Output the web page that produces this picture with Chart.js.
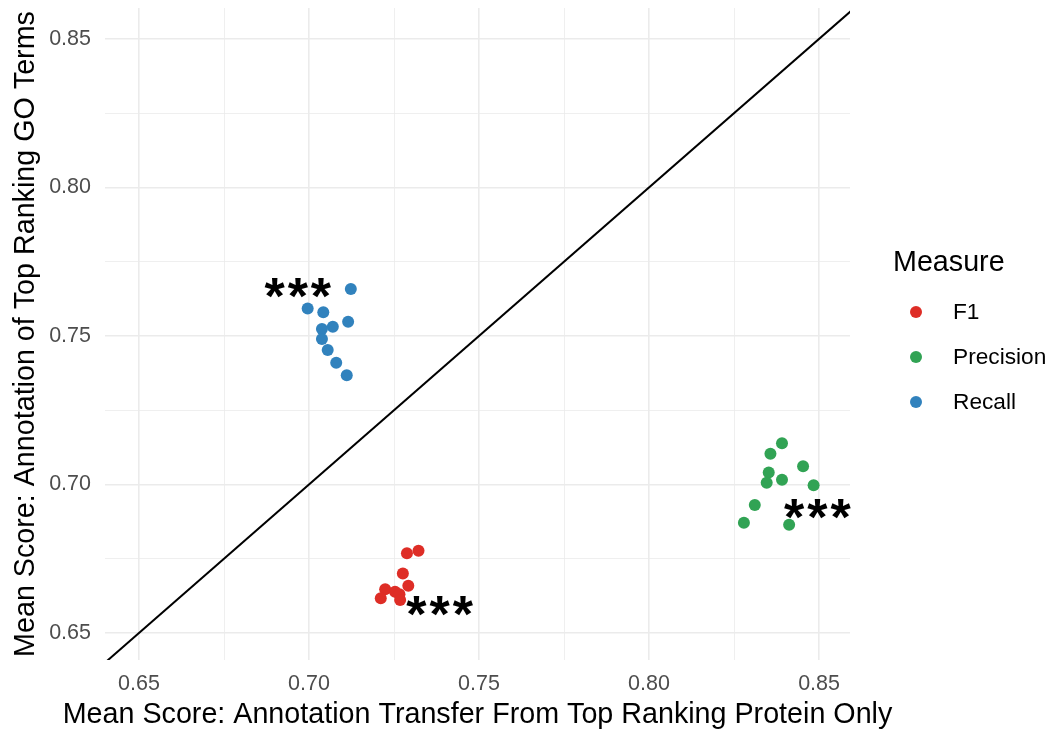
<!DOCTYPE html>
<html>
<head>
<meta charset="utf-8">
<script src="https://cdn.jsdelivr.net/npm/chart.js@4.4.1/dist/chart.umd.min.js"></script>
<style>
  html, body { margin: 0; padding: 0; background: #fff; }
  #wrap { width: 1051px; height: 731px; }
</style>
</head>
<body>
<div id="wrap"><canvas id="chart"></canvas></div>
<script>
// values
const measures = ["F1", "Precision", "Recall"];
const colors = ["#de2d26", "#31a354", "#3182bd"];

const f1X = [0.7322, 0.7288, 0.7276, 0.7292, 0.7224, 0.7253, 0.7266, 0.7211, 0.7268];
const f1Y = [0.6777, 0.6768, 0.6700, 0.6659, 0.6647, 0.6639, 0.6630, 0.6617, 0.6611];

const precisionX = [0.8391, 0.8357, 0.8453, 0.8352, 0.8391, 0.8346, 0.8484, 0.8311, 0.8279, 0.8412];
const precisionY = [0.7139, 0.7103, 0.7061, 0.7040, 0.7016, 0.7006, 0.6997, 0.6931, 0.6871, 0.6864];

const recallX = [0.7123, 0.6996, 0.7042, 0.7115, 0.7070, 0.7038, 0.7038, 0.7055, 0.7080, 0.7111];
const recallY = [0.7658, 0.7592, 0.7580, 0.7548, 0.7531, 0.7523, 0.7490, 0.7453, 0.7410, 0.7368];

// significance marks ("***") next to each group
const starLabels = ["***", "***", "***"];
const starX = [0.7385, 0.8496, 0.6968];
const starY = [0.6591, 0.6919, 0.7663];

const tickValues = [0.65, 0.675, 0.70, 0.725, 0.75, 0.775, 0.80, 0.825, 0.85];
const majorTicks = [0.65, 0.70, 0.75, 0.80, 0.85];

const xTitle = "Mean Score: Annotation Transfer From Top Ranking Protein Only";
const yTitle = "Mean Score: Annotation of Top Ranking GO Terms";
const legendTitle = "Measure";

const FONT = "'Liberation Sans', Arial, sans-serif";

function toPoints(xs, ys) {
    return xs.map((x, i) => ({x: x, y: ys[i]}));
}

function isMajor(v) {
    return majorTicks.some(m => Math.abs(m - v) < 1e-6);
}

const starPlugin = {
    id: 'stars',
    afterDatasetsDraw(chart) {
        const ctx = chart.ctx;
        const xs = chart.scales.x, ys = chart.scales.y;
        ctx.save();
        ctx.fillStyle = '#000';
        ctx.font = "bold 52px " + FONT;
        ctx.letterSpacing = '3px';
        ctx.textAlign = 'left';
        ctx.textBaseline = 'alphabetic';
        for (let i = 0; i < starLabels.length; i++) {
            const m = ctx.measureText(starLabels[i]);
            const w = m.actualBoundingBoxRight + m.actualBoundingBoxLeft;
            const h = m.actualBoundingBoxAscent + m.actualBoundingBoxDescent;
            const px = xs.getPixelForValue(starX[i]);
            const py = ys.getPixelForValue(starY[i]);
            ctx.fillText(starLabels[i], px - w / 2 + m.actualBoundingBoxLeft, py + h / 2 - m.actualBoundingBoxDescent);
        }
        ctx.restore();
    }
};

// x title is wider than the plot panel, so it is drawn here without squeezing
const xTitlePlugin = {
    id: 'xTitle',
    afterDraw(chart) {
        const ctx = chart.ctx;
        const a = chart.chartArea;
        ctx.save();
        ctx.fillStyle = '#000';
        ctx.font = "28.7px " + FONT;
        ctx.textAlign = 'center';
        ctx.textBaseline = 'middle';
        ctx.fillText(xTitle, (a.left + a.right) / 2, 715);
        ctx.restore();
    }
};

const legendPlugin = {
    id: 'sideLegend',
    afterDraw(chart) {
        const ctx = chart.ctx;
        ctx.save();
        ctx.fillStyle = '#000';
        ctx.font = "28.7px " + FONT;
        ctx.textBaseline = 'middle';
        ctx.textAlign = 'left';
        ctx.fillText(legendTitle, 893, 263);
        ctx.font = "22.7px " + FONT;
        for (let i = 0; i < measures.length; i++) {
            const y = 312 + i * 45;
            ctx.beginPath();
            ctx.arc(916, y, 6, 0, Math.PI * 2);
            ctx.fillStyle = colors[i];
            ctx.fill();
            ctx.fillStyle = '#000';
            ctx.fillText(measures[i], 953, y + 1);
        }
        ctx.restore();
    }
};

const pointSets = [toPoints(f1X, f1Y), toPoints(precisionX, precisionY), toPoints(recallX, recallY)];

const datasets = measures.map((m, i) => ({
    label: m,
    data: pointSets[i],
    backgroundColor: colors[i],
    borderColor: colors[i],
    borderWidth: 0,
    pointRadius: 6,
    pointHoverRadius: 6
}));

// y = x reference line
datasets.push({
    type: 'line',
    label: 'identity',
    data: [{x: 0.6, y: 0.6}, {x: 0.9, y: 0.9}],
    borderColor: '#000',
    borderWidth: 2,
    pointRadius: 0,
    fill: false
});

function gridWidth(ctx) {
    return isMajor(ctx.tick.value) ? 1.6 : 0.8;
}

new Chart(document.getElementById('chart'), {
    type: 'scatter',
    data: {datasets: datasets},
    options: {
        responsive: true,
        maintainAspectRatio: false,
        animation: false,
        layout: {padding: {top: 8, right: 201, left: 0, bottom: 0}},
        plugins: {legend: {display: false}, tooltip: {enabled: false}},
        scales: {
            x: {
                type: 'linear',
                min: 0.64,
                max: 0.8591,
                afterBuildTicks: s => { s.ticks = tickValues.map(v => ({value: v})); },
                afterFit: s => { s.height = 71; s.paddingLeft = 0; s.paddingRight = 0; },
                border: {display: false},
                grid: {color: '#ebebeb', lineWidth: gridWidth, drawTicks: false},
                ticks: {
                    autoSkip: false, maxRotation: 0, padding: 11,
                    color: '#4d4d4d', font: {family: FONT, size: 21.5},
                    callback: v => isMajor(v) ? v.toFixed(2) : ''
                },
                title: {display: false}
            },
            y: {
                type: 'linear',
                min: 0.6409,
                max: 0.8604,
                afterBuildTicks: s => { s.ticks = tickValues.map(v => ({value: v})); },
                afterFit: s => { s.width = 105; s.paddingTop = 0; s.paddingBottom = 0; },
                border: {display: false},
                grid: {color: '#ebebeb', lineWidth: gridWidth, drawTicks: false},
                ticks: {
                    autoSkip: false, padding: 14,
                    color: '#4d4d4d', font: {family: FONT, size: 21.5},
                    callback: v => isMajor(v) ? v.toFixed(2) : ''
                },
                title: {display: true, text: yTitle, color: '#000',
                        font: {family: FONT, size: 28.7}, padding: {top: 9, bottom: 0}}
            }
        }
    },
    plugins: [starPlugin, xTitlePlugin, legendPlugin]
});
</script>
</body>
</html>
